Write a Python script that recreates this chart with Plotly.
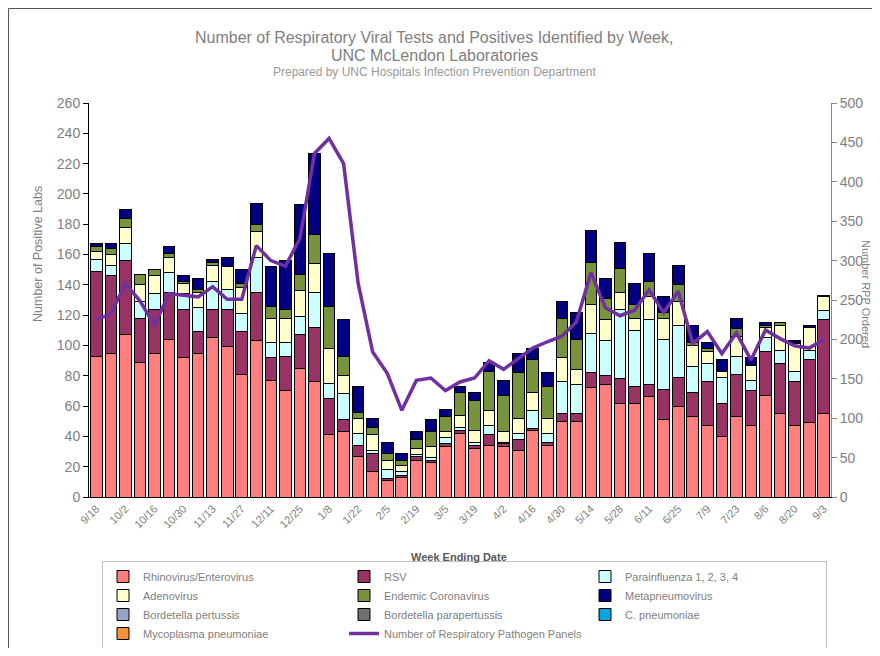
import plotly.graph_objects as go

weeks = ["9/18", "9/25", "10/2", "10/9", "10/16", "10/23", "10/30", "11/6", "11/13", "11/20",
         "11/27", "12/4", "12/11", "12/18", "12/25", "1/1", "1/8", "1/15", "1/22", "1/29",
         "2/5", "2/12", "2/19", "2/26", "3/5", "3/12", "3/19", "3/26", "4/2", "4/9",
         "4/16", "4/23", "4/30", "5/7", "5/14", "5/21", "5/28", "6/4", "6/11", "6/18",
         "6/25", "7/2", "7/9", "7/16", "7/23", "7/30", "8/6", "8/13", "8/20", "8/27", "9/3"]

rhino = [93, 95, 107, 89, 95, 104, 92, 95, 105, 99,
         81, 103, 77, 70, 85, 76, 41, 43, 27, 17,
         11, 13, 24, 23, 33, 42, 32, 34, 33, 31,
         44, 34, 50, 50, 72, 74, 62, 62, 66, 51,
         60, 53, 47, 40, 53, 47, 67, 55, 47, 49, 55]
rsv = [56, 51, 49, 29, 29, 31, 32, 14, 19, 25,
       28, 32, 15, 23, 22, 36, 24, 8, 7, 12,
       1, 1, 3, 1, 2, 2, 2, 7, 2, 7,
       1, 2, 5, 5, 10, 6, 16, 11, 8, 20,
       19, 16, 29, 22, 28, 23, 29, 33, 29, 42, 62]
parainfluenza = [8, 7, 11, 11, 10, 13, 10, 16, 18, 13,
                 12, 23, 10, 9, 12, 23, 10, 17, 8, 2,
                 6, 3, 1, 2, 4, 2, 2, 6, 1, 4,
                 12, 6, 21, 19, 26, 23, 46, 37, 43, 33,
                 34, 17, 12, 17, 12, 7, 9, 9, 7, 6, 6]
adenovirus = [5, 7, 11, 11, 12, 10, 7, 10, 11, 15,
              17, 17, 16, 16, 17, 19, 23, 12, 10, 10,
              6, 4, 4, 7, 4, 8, 8, 10, 7, 10,
              12, 10, 16, 10, 19, 14, 11, 8, 15, 14,
              16, 14, 8, 4, 13, 10, 7, 16, 18, 15, 9]
coronavirus = [3, 4, 6, 7, 4, 3, 1, 2, 2, 0,
               3, 5, 8, 6, 11, 19, 28, 13, 4, 5,
               5, 3, 6, 10, 10, 15, 20, 26, 24, 30,
               22, 21, 26, 20, 28, 14, 16, 9, 10, 4,
               11, 2, 2, 0, 5, 0, 1, 2, 1, 0, 1]
metapneumovirus = [2, 3, 6, 0, 0, 4, 4, 7, 2, 6,
                   9, 14, 26, 32, 46, 54, 35, 24, 17, 6,
                   7, 5, 5, 8, 5, 4, 5, 6, 10, 13,
                   7, 9, 11, 18, 21, 13, 17, 14, 19, 10,
                   13, 11, 4, 8, 7, 5, 2, 0, 1, 1, 0]
bordetella_pertussis = [0, 0, 0, 0, 0, 0, 0, 0, 0, 0, 0, 0, 0, 0, 0, 0, 0, 0, 0, 0, 0, 0, 0, 0, 0, 0,
                        0, 0, 0, 0, 0, 0, 0, 0, 0, 0, 0, 0, 0, 0, 0, 0, 0, 0, 0, 0, 0, 0, 0, 0, 0]
bordetella_parapertussis = [0, 0, 0, 0, 0, 0, 0, 0, 0, 0, 0, 0, 0, 0, 0, 0, 0, 0, 0, 0, 0, 0, 0, 0, 0, 0,
                            0, 0, 0, 0, 0, 0, 0, 0, 0, 0, 0, 0, 0, 0, 0, 0, 0, 0, 0, 0, 0, 0, 0, 0, 0]
c_pneumoniae = [0, 0, 0, 0, 0, 0, 0, 0, 0, 0, 0, 0, 0, 0, 0, 0, 0, 0, 0, 0, 0, 0, 0, 0, 0, 0,
                0, 0, 0, 0, 0, 0, 0, 0, 0, 0, 0, 0, 0, 0, 0, 0, 0, 0, 0, 0, 0, 0, 0, 0, 0]
mycoplasma = [0, 0, 0, 0, 0, 0, 0, 0, 0, 0, 0, 0, 0, 0, 0, 0, 0, 0, 0, 0, 0, 0, 0, 0, 0, 0,
              0, 0, 0, 0, 0, 0, 0, 0, 0, 0, 0, 0, 0, 0, 0, 0, 0, 0, 0, 0, 0, 0, 0, 0, 0]
rpp_panels = [225, 232, 271, 249, 218, 258, 256, 254, 267, 251,
              251, 319, 300, 293, 328, 436, 455, 423, 271, 184,
              157, 110, 148, 151, 135, 146, 151, 173, 162, 176,
              189, 197, 204, 222, 285, 240, 230, 237, 263, 234,
              261, 195, 210, 182, 208, 174, 212, 201, 192, 189, 200]

tick_labels = weeks[::2]
boundary_ticks = [-0.5, 6.5, 13.5, 20.5, 27.5, 34.5, 41.5, 48.5]

series = [
    ("Rhinovirus/Enterovirus", rhino, "#FF7F7F"),
    ("RSV", rsv, "#993366"),
    ("Parainfluenza 1, 2, 3, 4", parainfluenza, "#CCFFFF"),
    ("Adenovirus", adenovirus, "#FFFFCC"),
    ("Endemic Coronavirus", coronavirus, "#77933C"),
    ("Metapneumovirus", metapneumovirus, "#000080"),
    ("Bordetella pertussis", bordetella_pertussis, "#95A3CC"),
    ("Bordetella parapertussis", bordetella_parapertussis, "#6E6E6E"),
    ("C. pneumoniae", c_pneumoniae, "#00A6E0"),
    ("Mycoplasma pneumoniae", mycoplasma, "#F7923A"),
]

GREY = "#808080"
FONT = "Arial, Liberation Sans, sans-serif"

fig = go.Figure()
for name, vals, col in series:
    fig.add_trace(go.Bar(x=weeks, y=vals, name=name,
                         marker=dict(color=col, line=dict(color="black", width=1))))
fig.add_trace(go.Scatter(x=weeks, y=rpp_panels, name="Number of Respiratory Pathogen Panels",
                         mode="lines", yaxis="y2",
                         line=dict(color="#7030A0", width=3.5)))

# page has an 8px body margin on every side, so the figure is 16px smaller than the window
OFF = 8
W, H = 864, 640
L, R, T, B = 81, 41, 95, 151
pw, ph = W - L - R, H - T - B


def px(x_page):
    return (x_page - OFF - L) / pw


def py(y_page):
    return (H - B - (y_page - OFF)) / ph


fig.update_layout(
    width=W, height=H,
    margin=dict(l=L, r=R, t=T, b=B, autoexpand=False),
    barmode="stack", bargap=0.2,
    plot_bgcolor="white", paper_bgcolor="white",
    font=dict(family=FONT, color=GREY),
    showlegend=True,
    xaxis=dict(type="category", range=[-0.5, 50.5], tickmode="array",
               tickvals=tick_labels, ticktext=tick_labels, tickangle=-45,
               ticks="", showline=True, linecolor="black", linewidth=1,
               tickfont=dict(size=11, color=GREY), showgrid=False),
    xaxis2=dict(overlaying="x", anchor="y", side="bottom", range=[-0.5, 50.5],
                tickmode="array", tickvals=boundary_ticks, ticks="outside",
                ticklen=5, tickcolor="black", showticklabels=False,
                showgrid=False, showline=False, zeroline=False),
    yaxis=dict(range=[0, 260], dtick=20, ticks="outside", ticklen=5, tickcolor="black",
               showline=True, linecolor="black", showgrid=False, zeroline=False,
               tickfont=dict(size=14, color=GREY)),
    yaxis2=dict(range=[0, 500], dtick=50, overlaying="y", side="right",
                ticks="outside", ticklen=5, tickcolor="#888888",
                showline=True, linecolor="#888888", showgrid=False, zeroline=False,
                tickfont=dict(size=14, color=GREY)),
    legend=dict(orientation="h", x=px(102), y=py(561), xanchor="left", yanchor="top",
                entrywidth=196, entrywidthmode="pixels", itemwidth=30,
                traceorder="normal",
                font=dict(size=11, color=GREY), bordercolor="#C0C0C0", borderwidth=1,
                bgcolor="white"),
    shapes=[
        dict(type="line", xref="paper", yref="paper",
             x0=px(8.5), x1=px(872), y0=py(8.5), y1=py(8.5),
             line=dict(color="#555555", width=1)),
        dict(type="line", xref="paper", yref="paper",
             x0=px(8.5), x1=px(8.5), y0=py(8.5), y1=py(648),
             line=dict(color="#555555", width=1)),
    ],
    annotations=[
        dict(text="Number of Respiratory Viral Tests and Positives Identified by Week,",
             x=px(434), y=py(37), xref="paper", yref="paper", showarrow=False,
             xanchor="center", yanchor="middle", font=dict(size=16, color=GREY)),
        dict(text="UNC McLendon Laboratories",
             x=px(434), y=py(55), xref="paper", yref="paper", showarrow=False,
             xanchor="center", yanchor="middle", font=dict(size=16, color=GREY)),
        dict(text="Prepared by UNC Hospitals Infection Prevention Department",
             x=px(434), y=py(72), xref="paper", yref="paper", showarrow=False,
             xanchor="center", yanchor="middle", font=dict(size=12, color="#999999")),
        dict(text="Number of Positive Labs", textangle=-90,
             x=px(38), y=py(254), xref="paper", yref="paper", showarrow=False,
             xanchor="center", yanchor="middle", font=dict(size=12.5, color=GREY)),
        dict(text="Number RPP Ordered", textangle=90,
             x=px(866), y=py(294), xref="paper", yref="paper", showarrow=False,
             xanchor="center", yanchor="middle", font=dict(size=11, color=GREY)),
        dict(text="<b>Week Ending Date</b>",
             x=px(459), y=py(557), xref="paper", yref="paper", showarrow=False,
             xanchor="center", yanchor="middle", font=dict(size=11, color="#595959")),
    ],
)

fig.write_html("out.html")
